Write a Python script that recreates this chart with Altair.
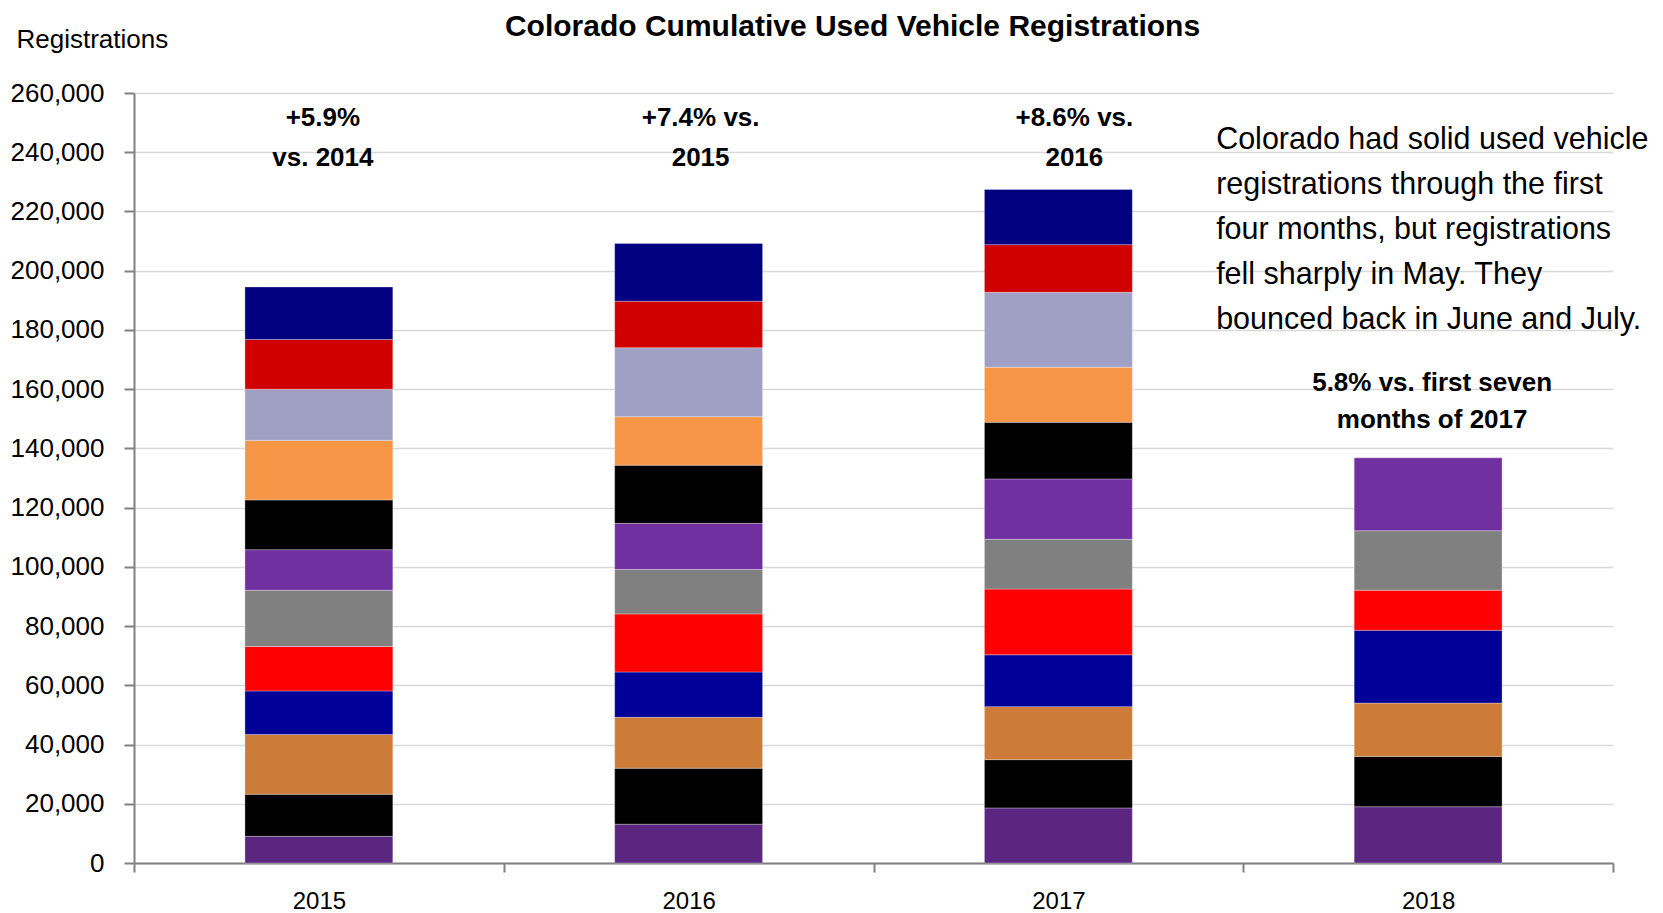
import altair as alt
import pandas as pd

# Monthly used vehicle registrations, stacked into a running (cumulative) total per year
years = ["2015", "2016", "2017", "2018"]
months = ["Jan", "Feb", "Mar", "Apr", "May", "Jun",
          "Jul", "Aug", "Sep", "Oct", "Nov", "Dec"]
month_colors = ["#5A2680", "#000000", "#CC7B38", "#000099", "#FF0000", "#808080",
                "#7030A0", "#000000", "#F79646", "#A0A0C4", "#D00000", "#000080"]

reg_2015 = [9000, 14200, 20200, 14700, 15000, 19000, 13700, 16800, 20100, 17300, 16800, 17700]
reg_2016 = [13100, 18900, 17200, 15300, 19600, 15000, 15600, 19600, 16400, 23300, 15700, 19500]
reg_2017 = [18600, 16300, 17900, 17500, 22200, 16800, 20400, 19100, 18600, 25300, 16100, 18600]
reg_2018 = [19000, 17000, 18000, 24600, 13500, 20100, 24600]

# Growth callouts above each bar
callout_years = ["2015", "2016", "2017", "2018"]
callout_text = ["+5.9%\nvs. 2014", "+7.4% vs.\n2015", "+8.6% vs.\n2016",
                "5.8% vs. first seven\nmonths of 2017"]
callout_y = [249000, 249000, 249000, 159400]
callout_dx = [4, 12, 16, 4]
callout_line_height = [40, 40, 40, 37]

note_text = ("Colorado had solid used vehicle\nregistrations through the first\n"
             "four months, but registrations\nfell sharply in May. They\n"
             "bounced back in June and July.")

rows = []
for year, vals in zip(years, [reg_2015, reg_2016, reg_2017, reg_2018]):
    for i, v in enumerate(vals):
        rows.append({"year": year, "month": months[i], "order": i, "registrations": v})
bars_df = pd.DataFrame(rows)

FONT = "Liberation Sans, Arial, sans-serif"

x_enc = alt.X("year:N", sort=years, title=None,
              scale=alt.Scale(domain=years, paddingInner=0, paddingOuter=0),
              axis=alt.Axis(labelAngle=0, labelFontSize=24, labelPadding=17,
                            tickBand="extent", tickSize=9, tickColor="#808080",
                            tickWidth=2, domainColor="#808080", domainWidth=2,
                            labelColor="#000000", grid=False))

bars = alt.Chart(bars_df).mark_bar(
    width=alt.RelativeBandSize(0.4), stroke="#ffffff", strokeWidth=0.6, strokeOpacity=0.5
).encode(
    x=x_enc,
    y=alt.Y("sum(registrations):Q",
            scale=alt.Scale(domain=[0, 260000], nice=False),
            axis=alt.Axis(values=list(range(0, 260001, 20000)), format=",d",
                          labelFontSize=26, labelPadding=20, labelColor="#000000",
                          tickSize=10, tickColor="#808080", tickWidth=2,
                          domainColor="#808080", domainWidth=2,
                          gridColor="#D9D9D9", gridWidth=1.5,
                          title="Registrations", titleAngle=0, titleFontSize=26,
                          titleFontWeight="normal", titleAlign="left",
                          titleBaseline="middle", titleX=-118, titleY=-54)),
    color=alt.Color("month:N", scale=alt.Scale(domain=months, range=month_colors),
                    legend=None),
    order=alt.Order("order:Q", sort="ascending"),
)

callouts_df = pd.DataFrame({"year": callout_years, "text": callout_text,
                            "pos": callout_y, "dx": callout_dx,
                            "lh": callout_line_height})
callout_layers = []
for _, r in callouts_df.iterrows():
    callout_layers.append(
        alt.Chart(callouts_df[callouts_df["year"] == r["year"]]).mark_text(
            font=FONT, fontSize=26, fontWeight="bold", align="center",
            baseline="alphabetic", lineBreak="\n", lineHeight=int(r["lh"]),
            dx=int(r["dx"]), color="#000000"
        ).encode(x=alt.X("year:N", sort=years), y=alt.Y("pos:Q"), text="text:N")
    )

note_df = pd.DataFrame({"year": ["2018"], "pos": [241000], "text": [note_text]})
note = alt.Chart(note_df).mark_text(
    font=FONT, fontSize=30.5, align="left", baseline="alphabetic",
    lineBreak="\n", lineHeight=45, dx=-212, color="#000000"
).encode(x=alt.X("year:N", sort=years), y=alt.Y("pos:Q"), text="text:N")

chart = alt.layer(bars, *callout_layers, note).properties(
    width=1479, height=770,
    title=alt.TitleParams("Colorado Cumulative Used Vehicle Registrations",
                          font=FONT, fontSize=30, fontWeight="bold", color="#000000",
                          anchor="middle", dx=-21, offset=-16),
    autosize=alt.AutoSizeParams(type="none"),
    padding={"left": 134, "top": 93, "right": 50, "bottom": 50},
).configure(font=FONT).configure_view(stroke=None).configure_axis(
    labelFont=FONT, titleFont=FONT
)

chart.save("out.html", embed_options={"renderer": "svg", "actions": False})
